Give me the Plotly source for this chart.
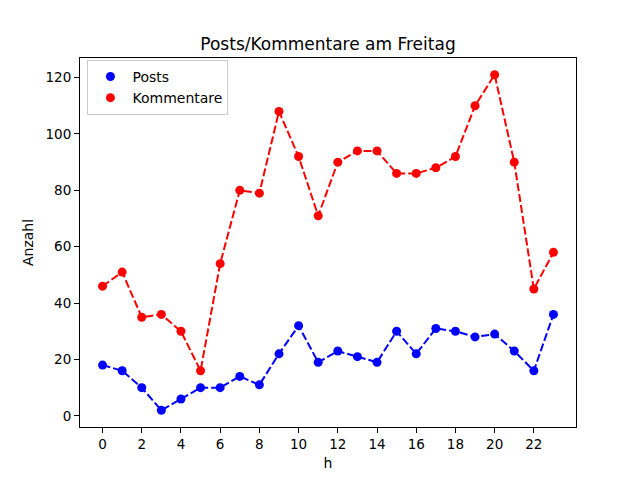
import plotly.graph_objects as go

hours = list(range(24))
posts = [18, 16, 10, 2, 6, 10, 10, 14, 11, 22, 32, 19, 23, 21, 19, 30, 22, 31, 30, 28, 29, 23, 16, 36]
kommentare = [46, 51, 35, 36, 30, 16, 54, 80, 79, 108, 92, 71, 90, 94, 94, 86, 86, 88, 92, 110, 121, 90, 45, 58]
x_ticks = list(range(0, 23, 2))
y_ticks = list(range(0, 121, 20))

fig = go.Figure()
for name, vals, col in [("Posts", posts, "#0000ff"), ("Kommentare", kommentare, "#ff0000")]:
    fig.add_trace(go.Scatter(x=hours, y=vals, mode="lines", showlegend=False,
                             line=dict(color=col, width=2, dash="8px,3px"), hoverinfo="skip"))
    fig.add_trace(go.Scatter(x=hours, y=vals, mode="markers", name=name,
                             marker=dict(color=col, size=9, line=dict(width=0))))

axis_common = dict(showline=True, linecolor="black", linewidth=1, mirror=True,
                   ticks="outside", ticklen=5, tickcolor="black", showgrid=False,
                   zeroline=False, tickfont=dict(size=13.5, color="black"))
fig.update_xaxes(range=[-1.15, 24.15], tickvals=x_ticks,
                 title=dict(text="h", font=dict(size=14, color="black"), standoff=6), **axis_common)
fig.update_yaxes(range=[-3.95, 126.95], tickvals=y_ticks,
                 title=dict(text="Anzahl", font=dict(size=14, color="black"), standoff=8), **axis_common)

fig.update_layout(
    width=640, height=480,
    margin=dict(l=80, r=64, t=58, b=53),
    paper_bgcolor="white", plot_bgcolor="white",
    font=dict(family="DejaVu Sans", color="black"),
    title=dict(text="Posts/Kommentare am Freitag", x=0.5, xref="paper", xanchor="center",
               y=1 - 44 / 480, yanchor="middle", font=dict(size=17, color="black")),
    legend=dict(x=0.015, y=0.995, xanchor="left", yanchor="top",
                bordercolor="#cccccc", borderwidth=1, bgcolor="rgba(255,255,255,0.8)",
                font=dict(size=14, color="black"), itemwidth=34, tracegroupgap=0),
)

fig.write_html("out.html")
